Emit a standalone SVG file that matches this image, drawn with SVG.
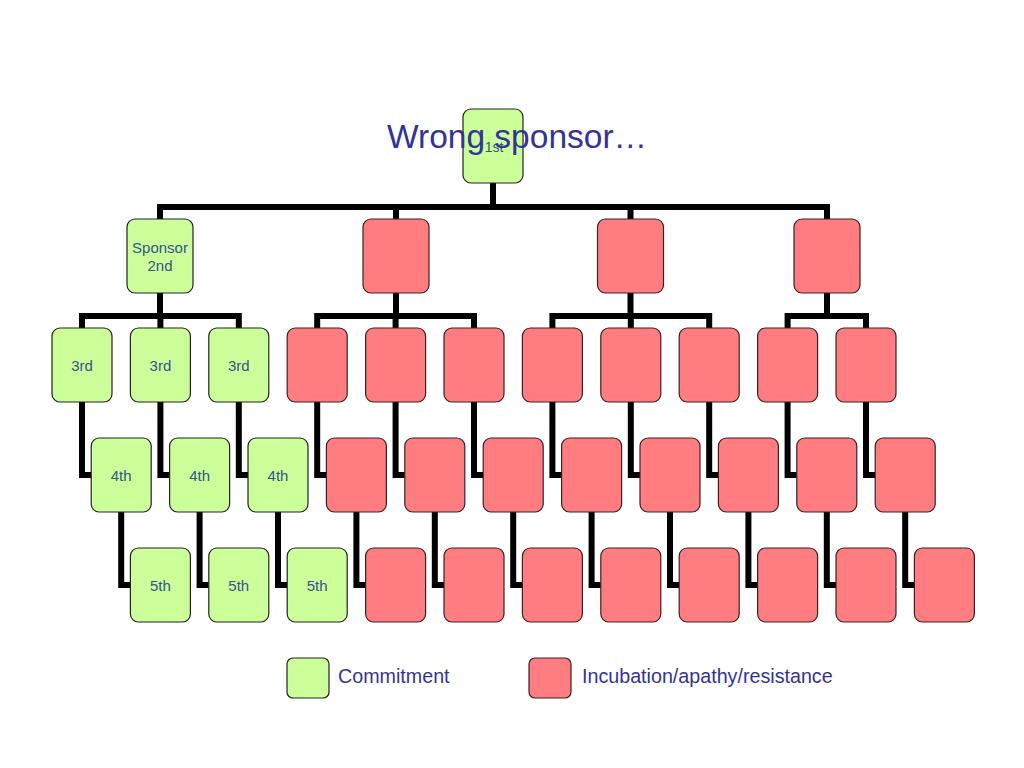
<svg xmlns="http://www.w3.org/2000/svg" width="1024" height="768" viewBox="0 0 1024 768">
<style>
.g{fill:#CCFF99;stroke:#222;stroke-width:1.2}
.r{fill:#FF7C80;stroke:#3a2222;stroke-width:1.2}
.c{fill:none;stroke:#000;stroke-width:6;stroke-linejoin:miter}
.lb{font-family:"Liberation Sans",Arial,sans-serif;font-size:15px;fill:#34548a;text-anchor:middle}
.tt{font-family:"Liberation Sans",Arial,sans-serif;font-size:33.5px;fill:#333399}
.lg{font-family:"Liberation Sans",Arial,sans-serif;font-size:19.7px;fill:#333399}
</style>
<rect width="1024" height="768" fill="#fff"/>
<g id="connectors" class="c">
<path d="M493,183V207M160,219V207H827V219M396,207V219M630.5,207V219"/>
<path d="M160,293V316M82,328V316H238.8V328M160.4,316V328"/>
<path d="M396,293V316M317.2,328V316H474V328M395.6,316V328"/>
<path d="M630.5,293V316M552.4,328V316H709.2V328M630.8,316V328"/>
<path d="M827,293V316M787.6,328V316H866V328"/>
<path d="M82,402V475H91.2M160.4,402V475H169.6M238.8,402V475H248M317.2,402V475H326.4M395.6,402V475H404.8M474,402V475H483.2M552.4,402V475H561.6M630.8,402V475H640M709.2,402V475H718.4M787.6,402V475H796.8M866,402V475H875.2"/>
<path d="M121.2,512V585H130.4M199.6,512V585H208.8M278,512V585H287.2M356.4,512V585H365.6M434.8,512V585H444M513.2,512V585H522.4M591.6,512V585H600.8M670,512V585H679.2M748.4,512V585H757.6M826.8,512V585H836M905.2,512V585H914.4"/>
</g>
<g id="n1st"><rect class="g" x="463" y="109" width="60" height="74" rx="8"/><text class="lb" x="494" y="152" style="font-size:14px">1st</text></g>
<g id="n2a"><rect class="g" x="127" y="219" width="66" height="74" rx="8"/><text class="lb" x="160" y="253">Sponsor</text><text class="lb" x="160" y="271">2nd</text></g>
<g id="n2b"><rect class="r" x="363" y="219" width="66" height="74" rx="8"/></g>
<g id="n2c"><rect class="r" x="597.5" y="219" width="66" height="74" rx="8"/></g>
<g id="n2d"><rect class="r" x="794" y="219" width="66" height="74" rx="8"/></g>
<g id="n3a"><rect class="g" x="52" y="328" width="60" height="74" rx="8"/><text class="lb" x="82" y="371">3rd</text></g>
<g id="n3b"><rect class="g" x="130.4" y="328" width="60" height="74" rx="8"/><text class="lb" x="160.4" y="371">3rd</text></g>
<g id="n3c"><rect class="g" x="208.8" y="328" width="60" height="74" rx="8"/><text class="lb" x="238.8" y="371">3rd</text></g>
<g id="n3d"><rect class="r" x="287.2" y="328" width="60" height="74" rx="8"/></g>
<g id="n3e"><rect class="r" x="365.6" y="328" width="60" height="74" rx="8"/></g>
<g id="n3f"><rect class="r" x="444" y="328" width="60" height="74" rx="8"/></g>
<g id="n3g"><rect class="r" x="522.4" y="328" width="60" height="74" rx="8"/></g>
<g id="n3h"><rect class="r" x="600.8" y="328" width="60" height="74" rx="8"/></g>
<g id="n3i"><rect class="r" x="679.2" y="328" width="60" height="74" rx="8"/></g>
<g id="n3j"><rect class="r" x="757.6" y="328" width="60" height="74" rx="8"/></g>
<g id="n3k"><rect class="r" x="836" y="328" width="60" height="74" rx="8"/></g>
<g id="n4a"><rect class="g" x="91.2" y="438" width="60" height="74" rx="8"/><text class="lb" x="121.2" y="481">4th</text></g>
<g id="n4b"><rect class="g" x="169.6" y="438" width="60" height="74" rx="8"/><text class="lb" x="199.6" y="481">4th</text></g>
<g id="n4c"><rect class="g" x="248" y="438" width="60" height="74" rx="8"/><text class="lb" x="278" y="481">4th</text></g>
<g id="n4d"><rect class="r" x="326.4" y="438" width="60" height="74" rx="8"/></g>
<g id="n4e"><rect class="r" x="404.8" y="438" width="60" height="74" rx="8"/></g>
<g id="n4f"><rect class="r" x="483.2" y="438" width="60" height="74" rx="8"/></g>
<g id="n4g"><rect class="r" x="561.6" y="438" width="60" height="74" rx="8"/></g>
<g id="n4h"><rect class="r" x="640" y="438" width="60" height="74" rx="8"/></g>
<g id="n4i"><rect class="r" x="718.4" y="438" width="60" height="74" rx="8"/></g>
<g id="n4j"><rect class="r" x="796.8" y="438" width="60" height="74" rx="8"/></g>
<g id="n4k"><rect class="r" x="875.2" y="438" width="60" height="74" rx="8"/></g>
<g id="n5a"><rect class="g" x="130.4" y="548" width="60" height="74" rx="8"/><text class="lb" x="160.4" y="591">5th</text></g>
<g id="n5b"><rect class="g" x="208.8" y="548" width="60" height="74" rx="8"/><text class="lb" x="238.8" y="591">5th</text></g>
<g id="n5c"><rect class="g" x="287.2" y="548" width="60" height="74" rx="8"/><text class="lb" x="317.2" y="591">5th</text></g>
<g id="n5d"><rect class="r" x="365.6" y="548" width="60" height="74" rx="8"/></g>
<g id="n5e"><rect class="r" x="444" y="548" width="60" height="74" rx="8"/></g>
<g id="n5f"><rect class="r" x="522.4" y="548" width="60" height="74" rx="8"/></g>
<g id="n5g"><rect class="r" x="600.8" y="548" width="60" height="74" rx="8"/></g>
<g id="n5h"><rect class="r" x="679.2" y="548" width="60" height="74" rx="8"/></g>
<g id="n5i"><rect class="r" x="757.6" y="548" width="60" height="74" rx="8"/></g>
<g id="n5j"><rect class="r" x="836" y="548" width="60" height="74" rx="8"/></g>
<g id="n5k"><rect class="r" x="914.4" y="548" width="60" height="74" rx="8"/></g>
<text id="title" class="tt" x="387" y="148">Wrong sponsor…</text>
<g id="legend-commitment"><rect class="g" x="287" y="658" width="42" height="40" rx="6"/><text class="lg" x="338" y="683">Commitment</text></g>
<g id="legend-incubation"><rect class="r" x="529" y="658" width="42" height="40" rx="6"/><text class="lg" x="582" y="683">Incubation/apathy/resistance</text></g>
</svg>
